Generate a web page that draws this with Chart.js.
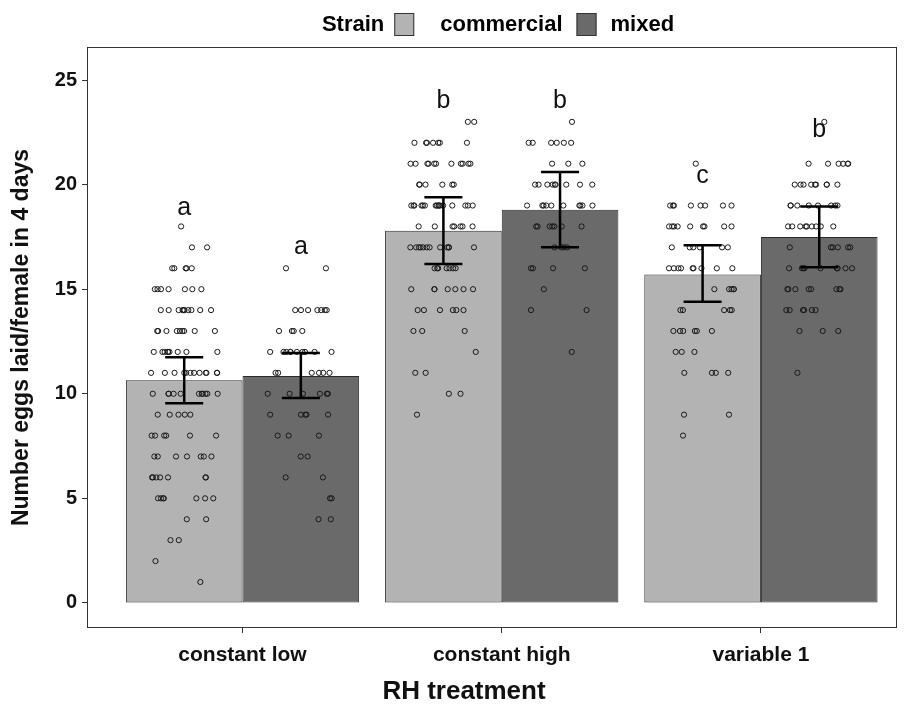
<!DOCTYPE html>
<html>
<head>
<meta charset="utf-8">
<script src="https://cdn.jsdelivr.net/npm/chart.js@4.4.1/dist/chart.umd.min.js"></script>
<style>
  body { margin: 0; background: #fff; }
  canvas { display: block; }
</style>
</head>
<body>
<canvas id="myChart" width="904" height="706"></canvas>
<script>
// categories and groups
var treatments = ['constant low', 'constant high', 'variable 1'];
var strains = ['commercial', 'mixed'];

// bar heights (means)
var meanCommercial = [10.65, 17.8, 15.7];
var meanMixed = [10.85, 18.8, 17.5];

// error bar ends
var lowCommercial = [9.55, 16.2, 14.4];
var highCommercial = [11.75, 19.4, 17.1];
var lowMixed = [9.8, 17.0, 16.05];
var highMixed = [11.95, 20.6, 18.95];

// significance letters and the value they sit at
var lettersCommercial = ['a', 'b', 'c'];
var lettersMixed = ['a', 'b', 'b'];
var letterYCommercial = [18.9, 24.0, 20.4];
var letterYMixed = [17.0, 24.0, 22.6];

// individual females: how many laid 0,1,2,...,23 eggs
var countsLowCommercial  = [0,1,1,2,2,7,7,7,6,5,11,12,9,9,10,7,5,2,1,0,0,0,0,0];
var countsLowMixed       = [0,0,0,0,2,2,2,2,3,5,6,6,10,4,7,0,2,0,0,0,0,0,0,0];
var countsHighCommercial = [0,0,0,0,0,0,0,0,0,1,2,2,1,3,6,7,7,12,7,16,6,11,7,2];
var countsHighMixed      = [0,0,0,0,0,0,0,0,0,0,0,0,1,0,2,1,4,4,7,10,9,3,6,1];
var countsVarCommercial  = [0,0,0,0,0,0,0,0,1,2,0,4,3,6,5,5,9,6,9,8,0,1,0,0];
var countsVarMixed       = [0,0,0,0,0,0,0,0,0,0,0,1,0,3,6,8,9,6,9,8,9,6,0,1];

var yTicks = [0, 5, 10, 15, 20, 25];

var colCommercial = '#b3b3b3';
var colMixed = '#6a6a6a';
var dodge = 0.225;   // half a bar, in category units
var jitterW = 0.13;

// sideways jitter from a fixed hash of the point index (same every run)
function jit(k, v, g) {
    var s = Math.sin((k + 1) * 12.9898 + v * 78.233 + g * 37.719) * 43758.5453;
    return s - Math.floor(s);
}

function makePoints(counts, catIdx, side, g) {
    var pts = [];
    for (var v = 0; v < counts.length; v++) {
        for (var k = 0; k < counts[v]; k++) {
            pts.push({ x: catIdx + side * dodge + (jit(k, v, g) - 0.5) * 2 * jitterW, y: v });
        }
    }
    return pts;
}

var groupsCommercial = [countsLowCommercial, countsHighCommercial, countsVarCommercial];
var groupsMixed = [countsLowMixed, countsHighMixed, countsVarMixed];
var ptsAll = [];
for (var i = 0; i < 3; i++) {
    ptsAll = ptsAll.concat(makePoints(groupsCommercial[i], i, -1, i * 2));
    ptsAll = ptsAll.concat(makePoints(groupsMixed[i], i, 1, i * 2 + 1));
}

var FONT = '"Liberation Sans", Arial, sans-serif';

var extras = {
    id: 'extras',
    afterDatasetsDraw: function (chart) {
        var ctx = chart.ctx;
        var xs = chart.scales.x, ys = chart.scales.y;
        ctx.save();
        // error bars
        ctx.strokeStyle = '#000';
        ctx.lineWidth = 2.5;
        function errbar(xv, lo, hi) {
            var px = xs.getPixelForValue(xv);
            var a = ys.getPixelForValue(lo), b = ys.getPixelForValue(hi);
            ctx.beginPath();
            ctx.moveTo(px, a); ctx.lineTo(px, b);
            ctx.moveTo(px - 19, a); ctx.lineTo(px + 19, a);
            ctx.moveTo(px - 19, b); ctx.lineTo(px + 19, b);
            ctx.stroke();
        }
        for (var i = 0; i < 3; i++) {
            errbar(i - dodge, lowCommercial[i], highCommercial[i]);
            errbar(i + dodge, lowMixed[i], highMixed[i]);
        }
        // letters
        ctx.fillStyle = '#111';
        ctx.font = '25px ' + FONT;
        ctx.textAlign = 'center';
        ctx.textBaseline = 'middle';
        for (var j = 0; j < 3; j++) {
            ctx.fillText(lettersCommercial[j], xs.getPixelForValue(j - dodge), ys.getPixelForValue(letterYCommercial[j]));
            ctx.fillText(lettersMixed[j], xs.getPixelForValue(j + dodge), ys.getPixelForValue(letterYMixed[j]));
        }
        // panel frame
        var ca = chart.chartArea;
        ctx.strokeStyle = '#333';
        ctx.lineWidth = 1;
        ctx.strokeRect(ca.left + 0.5, ca.top + 0.5, ca.right - ca.left - 1, ca.bottom - ca.top - 1);
        ctx.restore();
    },
    afterDraw: function (chart) {
        var ctx = chart.ctx;
        ctx.save();
        // x axis title
        ctx.font = 'bold 26px ' + FONT;
        ctx.fillStyle = '#111';
        ctx.textAlign = 'center';
        ctx.textBaseline = 'middle';
        ctx.fillText('RH treatment', 464, 692);
        // legend on top: "Strain [] commercial [] mixed"
        ctx.font = 'bold 22px ' + FONT;
        ctx.textAlign = 'left';
        ctx.fillStyle = '#000';
        var wS = ctx.measureText('Strain').width;
        var wC = ctx.measureText(strains[0]).width;
        var wM = ctx.measureText(strains[1]).width;
        var total = wS + 10 + 20 + 26 + wC + 14 + 20 + 14 + wM;
        var x = 498 - total / 2, y = 25;
        ctx.fillText('Strain', x, y);
        x += wS + 10;
        ctx.fillStyle = colCommercial; ctx.fillRect(x, 13, 20, 23);
        ctx.strokeStyle = '#333'; ctx.strokeRect(x + 0.5, 13.5, 19, 22);
        x += 20 + 26;
        ctx.fillStyle = '#000'; ctx.fillText(strains[0], x, y);
        x += wC + 14;
        ctx.fillStyle = colMixed; ctx.fillRect(x, 13, 20, 23);
        ctx.strokeRect(x + 0.5, 13.5, 19, 22);
        x += 20 + 14;
        ctx.fillStyle = '#000'; ctx.fillText(strains[1], x, y);
        ctx.restore();
    }
};

var ctx = document.getElementById('myChart').getContext('2d');
var myChart = new Chart(ctx, {
    type: 'bar',
    data: {
        datasets: [{
            type: 'scatter',
            label: 'points',
            data: ptsAll,
            pointStyle: 'circle',
            pointRadius: 2.6,
            pointBorderWidth: 1,
            borderColor: '#1a1a1a',
            backgroundColor: 'rgba(0,0,0,0)',
            order: 1
        }, {
            label: strains[0],
            data: meanCommercial.map(function (v, i) { return { x: i, y: v }; }),
            backgroundColor: colCommercial,
            borderColor: '#2b2b2b',
            borderWidth: 1,
            borderSkipped: false,
            categoryPercentage: 0.9,
            barPercentage: 1.0,
            order: 2
        }, {
            label: strains[1],
            data: meanMixed.map(function (v, i) { return { x: i, y: v }; }),
            backgroundColor: colMixed,
            borderColor: '#2b2b2b',
            borderWidth: 1,
            borderSkipped: false,
            categoryPercentage: 0.9,
            barPercentage: 1.0,
            order: 2
        }]
    },
    options: {
        responsive: false,
        animation: false,
        devicePixelRatio: 1,
        layout: { padding: { top: 47, right: 7, left: 0, bottom: 0 } },
        plugins: {
            legend: { display: false },
            tooltip: { enabled: false }
        },
        scales: {
            x: {
                type: 'linear',
                offset: false,
                min: -0.6,
                max: 2.525,
                afterBuildTicks: function (scale) {
                    scale.ticks = [0, 1, 2].map(function (v) { return { value: v }; });
                },
                afterFit: function (scale) { scale.height = 78; },
                border: { display: false },
                grid: { offset: false, drawOnChartArea: false, drawTicks: true, tickLength: 5, color: '#333' },
                ticks: {
                    padding: 10,
                    color: '#111',
                    font: { family: FONT, size: 21, weight: 'bold' },
                    callback: function (v) { return treatments[v]; }
                },
                title: { display: false, text: 'RH treatment' }
            },
            y: {
                min: -1.2,
                max: 26.58,
                afterBuildTicks: function (scale) {
                    scale.ticks = yTicks.map(function (v) { return { value: v }; });
                },
                afterFit: function (scale) { scale.width = 87; },
                border: { display: false },
                grid: { drawOnChartArea: false, drawTicks: true, tickLength: 5, color: '#333' },
                ticks: {
                    padding: 5,
                    color: '#111',
                    font: { family: FONT, size: 20, weight: 'bold' }
                },
                title: {
                    display: true,
                    text: 'Number eggs laid/female in 4 days',
                    color: '#111',
                    font: { family: FONT, size: 23, weight: 'bold', lineHeight: 1 },
                    padding: { top: 10, bottom: 0 }
                }
            }
        }
    },
    plugins: [extras]
});
</script>
</body>
</html>
